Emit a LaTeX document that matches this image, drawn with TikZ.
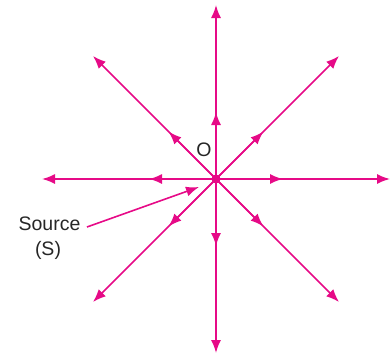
\documentclass[tikz,border=0pt]{standalone}
\usepackage{fontspec}
\setmainfont{Liberation Sans}
\usetikzlibrary{arrows.meta,calc}
\definecolor{pk}{RGB}{230,10,135}
\begin{document}
\begin{tikzpicture}[x=1pt,y=-1pt,
  ray/.style={draw=pk, line width=1.6pt, -{Latex[length=13pt,width=10pt]}},
  lbl/.style={font=\fontsize{19.5}{23}\selectfont, inner sep=0pt, anchor=base, text=black!85}]
\useasboundingbox (0,0) rectangle (390,356);
\coordinate (c) at (216,179);
\foreach \a in {0,45,...,315}{
  \coordinate (e\a) at ($(c)+(\a:174)$);
  \coordinate (m\a) at ($(c)+(\a:67)$);
  \draw[ray] (c) -- (e\a);
  \draw[ray] (c) -- (m\a);
}
\node[circle, fill=pk, inner sep=0pt, minimum size=9pt] (dot) at (c) {};
\node[lbl] (o) at (204,156) {O};
\node[lbl] (src) at (49.5,230) {Source};
\node[lbl] (srcs) at (48,255) {(S)};
\coordinate (s0) at (87,227);
\coordinate (s1) at (199,187);
\draw[ray] (s0) -- (s1);
\end{tikzpicture}
\end{document}
